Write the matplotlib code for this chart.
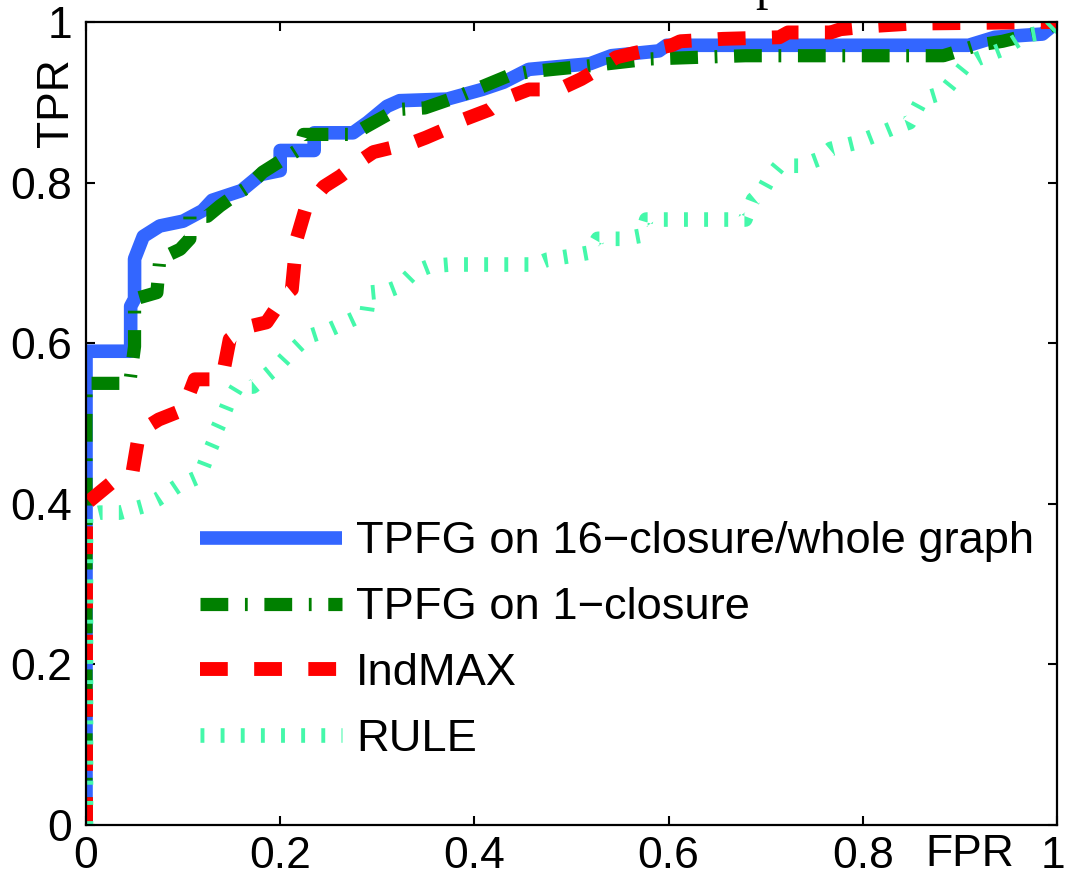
import matplotlib
matplotlib.use("Agg")
import matplotlib.pyplot as plt
import matplotlib.transforms as mtransforms

plt.rcParams['font.family'] = ['Liberation Sans', 'DejaVu Sans']
plt.rcParams['lines.scale_dashes'] = False

# ---- data ----
labels = ["TPFG on 16\u2212closure/whole graph", "TPFG on 1\u2212closure", "IndMAX", "RULE"]

blue_fpr = [0, 0, 0.046, 0.046, 0.05, 0.05, 0.059, 0.076, 0.10, 0.12, 0.13, 0.16, 0.18, 0.20, 0.20,
            0.235, 0.235, 0.275, 0.29, 0.31, 0.323, 0.372, 0.408, 0.43, 0.456, 0.519, 0.541, 0.59,
            0.598, 0.909, 0.936, 0.985, 1.0]
blue_tpr = [0, 0.59, 0.59, 0.646, 0.655, 0.705, 0.733, 0.746, 0.752, 0.765, 0.778, 0.79, 0.81, 0.815, 0.84,
            0.84, 0.862, 0.862, 0.875, 0.895, 0.902, 0.904, 0.916, 0.925, 0.941, 0.948, 0.958, 0.964,
            0.971, 0.971, 0.981, 0.985, 1.0]

green_fpr = [0, 0, 0.045, 0.05, 0.05, 0.073, 0.076, 0.097, 0.107, 0.107, 0.125, 0.138, 0.152, 0.166,
             0.182, 0.203, 0.22, 0.224, 0.275, 0.289, 0.32, 0.349, 0.385, 0.435, 0.456, 0.523, 0.581,
             0.679, 0.883, 0.918, 0.944, 0.985, 1.0]
green_tpr = [0, 0.55, 0.55, 0.596, 0.655, 0.663, 0.705, 0.717, 0.73, 0.758, 0.758, 0.771, 0.783, 0.794,
             0.813, 0.829, 0.842, 0.86, 0.86, 0.87, 0.891, 0.893, 0.908, 0.933, 0.938, 0.946, 0.954,
             0.958, 0.958, 0.971, 0.976, 0.988, 1.0]

red_fpr = [0, 0, 0.01, 0.03, 0.048, 0.055, 0.075, 0.10, 0.112, 0.14, 0.148, 0.165, 0.186, 0.205, 0.212,
           0.217, 0.226, 0.234, 0.245, 0.262, 0.28, 0.296, 0.337, 0.35, 0.377, 0.39, 0.416, 0.43, 0.456,
           0.487, 0.51, 0.527, 0.546, 0.567, 0.603, 0.612, 0.656, 0.714, 0.723, 0.767, 0.777, 0.811,
           0.85, 1.0]
red_tpr = [0, 0.40, 0.41, 0.43, 0.44, 0.49, 0.505, 0.517, 0.555, 0.555, 0.605, 0.62, 0.626, 0.66, 0.667,
           0.73, 0.767, 0.779, 0.795, 0.808, 0.825, 0.838, 0.85, 0.856, 0.87, 0.879, 0.891, 0.904, 0.916,
           0.916, 0.929, 0.941, 0.956, 0.962, 0.971, 0.976, 0.979, 0.981, 0.987, 0.987, 0.991, 0.995,
           0.998, 1.0]

rule_fpr = [0, 0, 0.014, 0.035, 0.059, 0.073, 0.094, 0.117, 0.125, 0.131, 0.135, 0.141, 0.148, 0.156,
            0.172, 0.197, 0.207, 0.228, 0.251, 0.275, 0.289, 0.292, 0.31, 0.323, 0.337, 0.354, 0.375,
            0.463, 0.475, 0.496, 0.519, 0.527, 0.554, 0.572, 0.577, 0.679, 0.687, 0.696, 0.705, 0.714,
            0.736, 0.754, 0.767, 0.794, 0.811, 0.829, 0.848, 0.861, 0.883, 0.905, 0.918, 0.944, 0.967,
            0.99, 1.0]
rule_tpr = [0, 0.385, 0.389, 0.389, 0.397, 0.405, 0.422, 0.434, 0.459, 0.476, 0.493, 0.509, 0.53, 0.546,
            0.546, 0.571, 0.584, 0.608, 0.617, 0.63, 0.638, 0.663, 0.665, 0.671, 0.688, 0.696, 0.698,
            0.698, 0.704, 0.708, 0.713, 0.73, 0.73, 0.734, 0.754, 0.754, 0.779, 0.788, 0.808, 0.821,
            0.821, 0.829, 0.842, 0.85, 0.858, 0.867, 0.875, 0.904, 0.912, 0.945, 0.954, 0.966, 0.983,
            0.988, 1.0]

ticks = [0, 0.2, 0.4, 0.6, 0.8, 1]
tick_labels = ["0", "0.2", "0.4", "0.6", "0.8", "1"]

# ---- figure ----
W, H = 1067, 882
fig = plt.figure(figsize=(W / 100, H / 100), dpi=100)
ax = fig.add_axes([86 / W, 1 - 825 / H, (1057 - 86) / W, (825 - 22) / H])

ax.plot(blue_fpr, blue_tpr, color='#3366FF', lw=9.8, solid_joinstyle='round',
        solid_capstyle='butt', label=labels[0])
ax.plot(green_fpr, green_tpr, color='#008000', lw=9.5, dashes=(20, 12, 2, 12),
        dash_capstyle='butt', label=labels[1])
ax.plot(red_fpr, red_tpr, color='#FF0000', lw=10, dashes=(20, 19),
        dash_capstyle='butt', label=labels[2])
ax.plot(rule_fpr, rule_tpr, color='#44F8AA', lw=10.5, dashes=(2.8, 11.7),
        dash_capstyle='butt', label=labels[3])

ax.set_xlim(0, 1)
ax.set_ylim(0, 1)
ax.set_xticks(ticks)
ax.set_xticklabels(tick_labels)
ax.set_yticks(ticks)
ax.set_yticklabels(tick_labels)
ax.tick_params(direction='in', length=6.5, width=1.5, labelsize=32, top=True, right=True,
               pad=8)
ax.tick_params(axis='y', pad=10)
for s in ax.spines.values():
    s.set_linewidth(1.6)

# nudge the last x tick label slightly left so it stays inside the canvas
last = ax.get_xticklabels()[-1]
last.set_transform(last.get_transform() +
                   mtransforms.ScaledTranslation(-4 / 100, 0, fig.dpi_scale_trans))

ax.set_xlabel('FPR', fontsize=32)
ax.xaxis.set_label_coords(0.910, -0.037)
ax.xaxis.label.set_va('center')
ax.set_ylabel('TPR', fontsize=32)
ax.yaxis.set_label_coords(-0.030, 0.90)
ax.yaxis.label.set_va('center')

leg = ax.legend(loc='upper left', bbox_to_anchor=(0.117, 0.378), frameon=False, fontsize=32.6,
                handlelength=3.15, handletextpad=0.3, borderpad=0, borderaxespad=0,
                labelspacing=0.55)

# clipped title fragment at the top edge
fig.text(768 / W, 1.0 + 1 / H, 'p', family='Liberation Serif', fontsize=36,
         ha='center', va='baseline')

fig.savefig('out.png', dpi=100)
